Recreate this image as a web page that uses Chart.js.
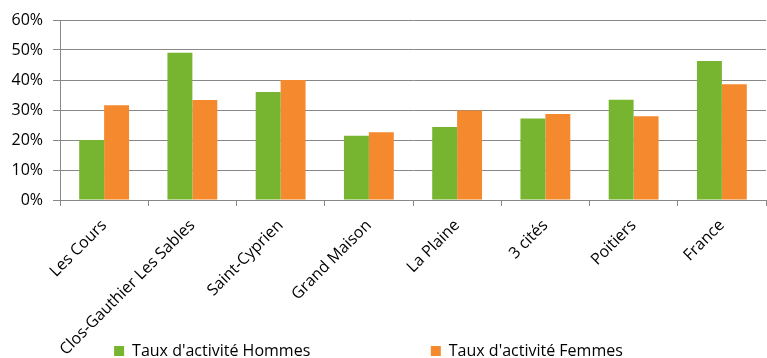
<!DOCTYPE html>
<html>
<head>
<meta charset="utf-8">
<script src="https://cdn.jsdelivr.net/npm/chart.js@4"></script>
<style>
  body { margin: 0; background: #fff; }
  #wrap { width: 767px; height: 358px; }
</style>
</head>
<body>
<div id="wrap"><canvas id="myChart"></canvas></div>
<script>
var quartiers = ["Les Cours", "Clos-Gauthier Les Sables", "Saint-Cyprien", "Grand Maison", "La Plaine", "3 cités", "Poitiers", "France"];
var hommes = [20.0, 49.1, 36.0, 21.4, 24.3, 27.2, 33.4, 46.3];
var femmes = [31.6, 33.3, 40.0, 22.6, 29.8, 28.7, 27.9, 38.6];
var yTicks = [0, 10, 20, 30, 40, 50, 60];

Chart.defaults.font.family = "'Open Sans', sans-serif";
Chart.defaults.font.size = 16;
Chart.defaults.color = "#000";

const data = {
	labels: quartiers,
	datasets: [
		{
			label: "Taux d'activité Hommes",
			backgroundColor: "#77b531",
			data: hommes,
		},
		{
			label: "Taux d'activité Femmes",
			backgroundColor: "#f5892d",
			data: femmes,
		},
	],
};

const config = {
	type: "bar",
	data: data,
	options: {
		responsive: true,
		maintainAspectRatio: false,
		animation: false,
		// negative bottom padding pushes the legend row down to the canvas edge
		layout: { padding: { top: 20, right: 1, left: 0, bottom: -11 } },
		datasets: {
			bar: { categoryPercentage: 0.565, barPercentage: 1.0 },
		},
		plugins: {
			tooltip: { enabled: false },
			legend: {
				position: "bottom",
				labels: {
					boxWidth: 10,
					boxHeight: 10,
					padding: 0,
					generateLabels: function (chart) {
						var items = Chart.defaults.plugins.legend.labels.generateLabels(chart);
						// wide gap between the two legend entries, like the original
						items[0].text = items[0].text + "\u00a0".repeat(29);
						items[1].text = items[1].text + "\u00a0".repeat(7);
						return items;
					},
				},
			},
		},
		scales: {
			y: {
				min: 0,
				max: 60,
				afterBuildTicks: function (scale) {
					scale.ticks = yTicks.map(function (v) { return { value: v }; });
				},
				afterFit: function (scale) {
					scale.width = 60;
				},
				ticks: {
					padding: 10,
					callback: function (v) { return v + "%"; },
				},
				grid: { color: "#888888", lineWidth: 1, tickLength: 7 },
				border: { color: "#888888" },
			},
			x: {
				afterFit: function (scale) {
					scale.height = 143;
					// long rotated labels run into the legend row, don't clip them
					scale._computeLabelArea = function () { return undefined; };
				},
				ticks: { minRotation: 45, maxRotation: 45, autoSkip: false, padding: 10 },
				grid: { offset: true, drawOnChartArea: false, color: "#888888", tickLength: 6 },
				border: { color: "#888888" },
			},
		},
	},
};

const myChart = new Chart(document.getElementById("myChart"), config);
</script>
</body>
</html>
